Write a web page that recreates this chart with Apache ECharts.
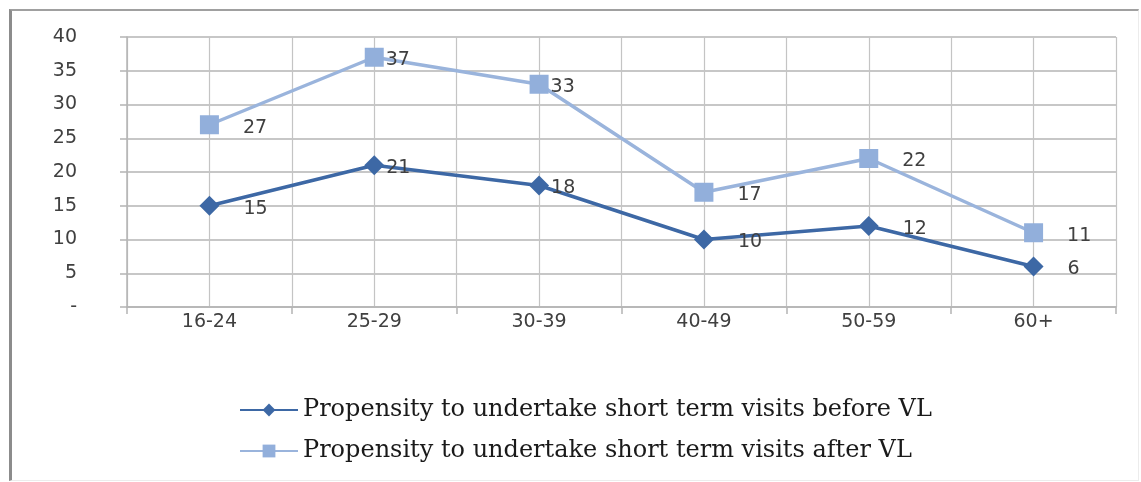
<!DOCTYPE html>
<html>
<head>
<meta charset="utf-8">
<script src="https://cdn.jsdelivr.net/npm/echarts@6/dist/echarts.min.js"></script>
<style>
  html, body { margin: 0; padding: 0; background: #ffffff; }
  #frame {
    position: absolute; left: 9px; top: 9px; width: 1126px; height: 469px;
    border-left: 3px solid #8c8c8c; border-top: 2px solid #a0a0a0;
    border-right: 1px solid #ececec; border-bottom: 1px solid #ececec;
  }
  #chart { position: absolute; left: 0; top: 0; width: 1141px; height: 482px; }
</style>
</head>
<body>
<div id="frame"></div>
<div id="chart"></div>
<script>
// Age bands on the horizontal axis
const ageBands = ['16-24', '25-29', '30-39', '40-49', '50-59', '60+'];

// Propensity (%) to undertake short term visits, by age band
const beforeVL = [15, 21, 18, 10, 12, 6];
const afterVL = [27, 37, 33, 17, 22, 11];

const seriesNames = [
  'Propensity to undertake short term visits before VL',
  'Propensity to undertake short term visits after VL'
];

// Gap between each marker and its value label, per age band
const labelGap = [24, 2, 2, 24, 24, 24];

const labelFont = { color: '#404040', fontSize: 19, fontFamily: 'DejaVu Sans' };

function withLabels(values) {
  return values.map((v, i) => ({
    value: v,
    label: { distance: labelGap[i] }
  }));
}

const chart = echarts.init(document.getElementById('chart'), null, { renderer: 'canvas' });

chart.setOption({
  animation: false,
  backgroundColor: 'transparent',
  grid: { left: 127, right: 25, top: 37, bottom: 175, containLabel: false },
  legend: {
    orient: 'vertical',
    left: 234,
    top: 393,
    itemWidth: 58,
    itemHeight: 16,
    itemGap: 17,
    textStyle: { fontFamily: 'DejaVu Serif', fontSize: 24, color: '#1a1a1a' },
    data: seriesNames
  },
  xAxis: [
    {
      type: 'category',
      data: ageBands,
      boundaryGap: true,
      axisLine: { show: true, lineStyle: { color: '#b4b4b4', width: 1.5 } },
      axisTick: { show: true, length: 7, lineStyle: { color: '#b4b4b4', width: 1.5 } },
      axisLabel: { ...labelFont, margin: 6 },
      splitLine: { show: false }
    },
    {
      // half-band vertical gridlines
      type: 'value',
      min: 0, max: 12, interval: 1,
      position: 'bottom',
      axisLine: { show: false },
      axisTick: { show: false },
      axisLabel: { show: false },
      splitLine: { show: true, lineStyle: { color: '#c4c4c4', width: 1.2 } }
    }
  ],
  yAxis: {
    type: 'value',
    min: 0, max: 40, interval: 5,
    axisLine: { show: true, lineStyle: { color: '#b4b4b4', width: 1.5 } },
    axisTick: { show: true, length: 7, lineStyle: { color: '#b4b4b4', width: 1.5 } },
    axisLabel: {
      ...labelFont,
      margin: 50,
      align: 'right',
      formatter: v => (v === 0 ? '-' : String(v))
    },
    splitLine: { show: true, lineStyle: { color: '#b4b4b4', width: 1.5 } }
  },
  series: [
    {
      name: seriesNames[0],
      type: 'line',
      xAxisIndex: 0,
      data: withLabels(beforeVL),
      symbol: 'diamond',
      symbolSize: 20,
      lineStyle: { color: '#3d68a5', width: 3.5 },
      itemStyle: { color: '#3d68a5' },
      label: { show: true, position: 'right', offset: [0, 3], ...labelFont },
      z: 4
    },
    {
      name: seriesNames[1],
      type: 'line',
      xAxisIndex: 0,
      data: withLabels(afterVL),
      symbol: 'rect',
      symbolSize: 19,
      lineStyle: { color: '#9ab4dc', width: 3.5 },
      itemStyle: { color: '#92afdb' },
      label: { show: true, position: 'right', offset: [0, 3], ...labelFont },
      z: 3
    }
  ]
});
</script>
</body>
</html>
